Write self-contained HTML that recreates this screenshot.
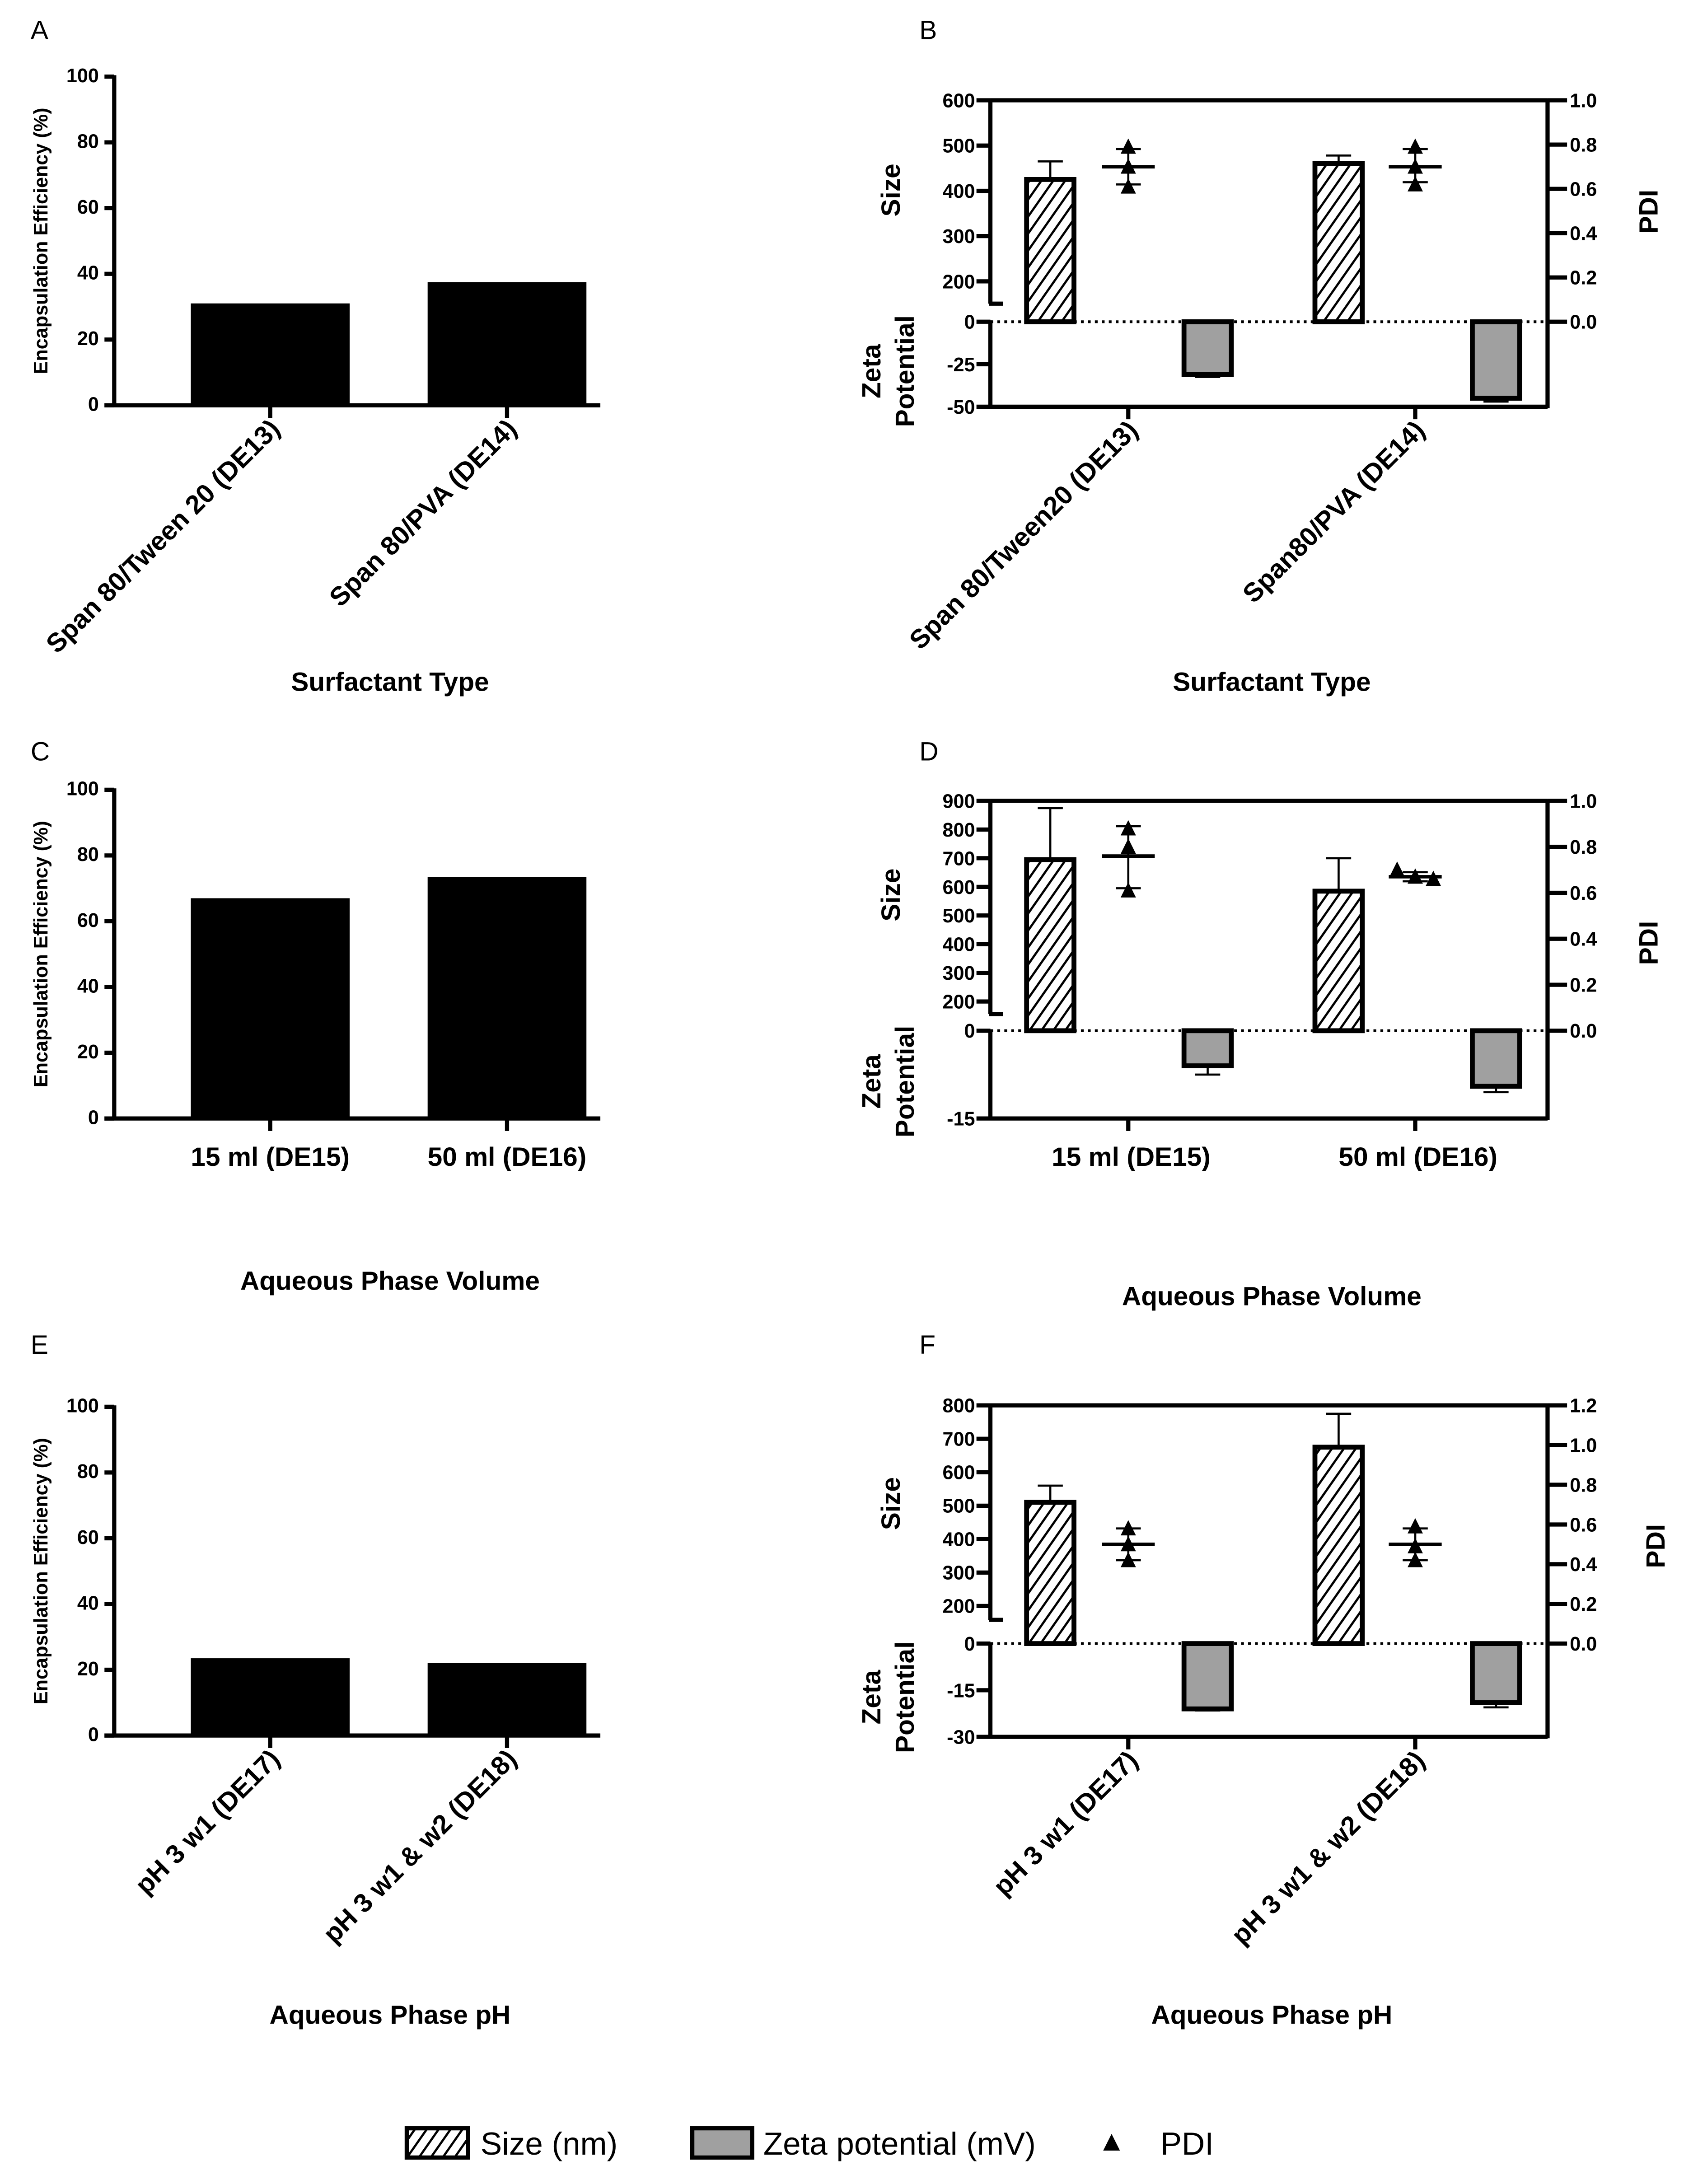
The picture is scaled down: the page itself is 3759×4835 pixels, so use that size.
<!DOCTYPE html>
<html><head><meta charset="utf-8">
<style>
html,body{margin:0;padding:0;background:#fff;}
svg{display:block;}
text{font-family:"Liberation Sans",Arial,sans-serif;fill:#000;}
.tk{font-size:14px;font-weight:bold;}
.ax{font-size:19px;font-weight:bold;}
.lt{font-size:19px;}
</style></head>
<body>
<svg id="fig" xmlns="http://www.w3.org/2000/svg" width="3759" height="4835" viewBox="0 0 1219 1568" preserveAspectRatio="none">
<defs>
<pattern id="hatch" patternUnits="userSpaceOnUse" width="7" height="7" patternTransform="rotate(35)">
<rect width="7" height="7" fill="#fff"/>
<line x1="0" y1="0" x2="0" y2="7" stroke="#000" stroke-width="3.2"/>
</pattern>
</defs>
<g id="root"></g>
<g>
<rect x="292" y="1528" width="44" height="21" fill="url(#hatch)" stroke="#000" stroke-width="3"/>
<text x="345" y="1547" font-size="23">Size (nm)</text>
<rect x="497" y="1528" width="43" height="21" fill="#a0a0a0" stroke="#000" stroke-width="3"/>
<text x="548" y="1547" font-size="23">Zeta potential (mV)</text>
<polygon points="798,1532 792,1544 804,1544" fill="#000"/>
<text x="833" y="1547" font-size="23">PDI</text>
</g>
</svg>
<script>
// ---- Data: encapsulation efficiency panels ----
const eeCatsA = ["Span 80/Tween 20 (DE13)", "Span 80/PVA (DE14)"];
const eeValsA = [31, 37.5];
const eeCatsC = ["15 ml (DE15)", "50 ml (DE16)"];
const eeValsC = [67, 73.5];
const eeCatsE = ["pH 3 w1 (DE17)", "pH 3 w1 & w2 (DE18)"];
const eeValsE = [23.5, 22];
const eeTicks = [0, 20, 40, 60, 80, 100];

// ---- Data: size / zeta / PDI panels ----
const catsB = ["Span 80/Tween20 (DE13)", "Span80/PVA (DE14)"];
const sizeB = [425, 460];
const sizeErrB = [465, 478];
const zetaB = [-31, -45];
const zetaErrB = [-32.5, -47];
const pdiPtsB = [[0.79, 0.7, 0.61], [0.79, 0.7, 0.62]];
const pdiMeanB = [0.7, 0.7];
const pdiLoB = [0.62, 0.63];
const pdiHiB = [0.78, 0.78];
const sizeTicksB = [200, 300, 400, 500, 600];
const zetaTicksB = [0, -25, -50];
const pdiTicksB = [0, 0.2, 0.4, 0.6, 0.8, 1.0];

const catsD = ["15 ml (DE15)", "50 ml (DE16)"];
const sizeD = [695, 585];
const sizeErrD = [875, 700];
const zetaD = [-6, -9.5];
const zetaErrD = [-7.5, -10.5];
const pdiPtsD = [[0.88, 0.8, 0.61], [0.7, 0.67, 0.66]];
const pdiMeanD = [0.76, 0.67];
const pdiLoD = [0.62, 0.65];
const pdiHiD = [0.89, 0.69];
const sizeTicksD = [200, 300, 400, 500, 600, 700, 800, 900];
const zetaTicksD = [0, -15];
const pdiTicksD = [0, 0.2, 0.4, 0.6, 0.8, 1.0];

const catsF = ["pH 3 w1 (DE17)", "pH 3 w1 & w2 (DE18)"];
const sizeF = [510, 675];
const sizeErrF = [560, 775];
const zetaF = [-21, -19];
const zetaErrF = [-21.5, -20.5];
const pdiPtsF = [[0.58, 0.5, 0.42], [0.59, 0.49, 0.42]];
const pdiMeanF = [0.5, 0.5];
const pdiLoF = [0.42, 0.42];
const pdiHiF = [0.58, 0.58];
const sizeTicksF = [200, 300, 400, 500, 600, 700, 800];
const zetaTicksF = [0, -15, -30];
const pdiTicksF = [0, 0.2, 0.4, 0.6, 0.8, 1.0, 1.2];

const NS = "http://www.w3.org/2000/svg";
const root = document.getElementById("root");
function mk(tag, attrs, parent, txt) {
  const e = document.createElementNS(NS, tag);
  for (const k in attrs) e.setAttribute(k, attrs[k]);
  if (txt !== undefined) e.textContent = txt;
  (parent || root).appendChild(e);
  return e;
}
function line(x1, y1, x2, y2, w, p, extra) {
  return mk("line", Object.assign({x1, y1, x2, y2, stroke: "#000", "stroke-width": w}, extra || {}), p);
}

function eePanel(letter, ly, top, bottom, cats, vals, rotated, title, ty) {
  const g = mk("g", {});
  
  
  const lt = mk("text", {x: 22, y: ly, class: "lt"}, g, letter);
  
  
  const ax = 82;
  const y = v => bottom - v / 100 * (bottom - top);
  const barX = [137, 307];
  vals.forEach((v, i) => {
    const b = mk("rect", {x: barX[i], y: y(v), width: 114, height: bottom - y(v), fill: "#000"}, g);
    
    
  });
  line(ax, top - 1, ax, bottom + 1, 3, g);
  line(75, bottom, 431, bottom, 3, g);
  eeTicks.forEach(t => {
    line(75, y(t), ax, y(t), 3, g);
    const tl = mk("text", {x: 71, y: y(t) + 4, class: "tk", "text-anchor": "end", "font-size": 12.5}, g, t);
    
    
  });
  const yt = mk("text", {x: 0, y: 0, class: "tk", "text-anchor": "middle", "font-size": 13,
    transform: `translate(34,${(top + bottom) / 2}) rotate(-90)`}, g, "Encapsulation Efficiency (%)");
  
  
  cats.forEach((c, i) => {
    const cx = barX[i] + 57;
    line(cx, bottom, cx, bottom + 9, 3, g);
    let t;
    if (rotated) t = mk("text", {x: 0, y: 0, class: "ax", "text-anchor": "end", transform: `translate(${cx + 8},${bottom + 18}) rotate(-45)`}, g, c);
    else t = mk("text", {x: cx, y: bottom + 34, class: "ax", "text-anchor": "middle", "font-size": 20}, g, c);
    
    
  });
  const tt = mk("text", {x: 280, y: ty, class: "ax", "text-anchor": "middle", "font-size": 20}, g, title);
  
  
}

function comboPanel(o) {
  const g = mk("g", {});
  
  
  const lt = mk("text", {x: 660, y: o.ly, class: "lt"}, g, o.letter);
  
  
  const x0 = 711, x1 = 1111;
  const sMax = o.sizeTicks[o.sizeTicks.length - 1], sMin = o.sizeTicks[0];
  const yS = v => o.top + (sMax - v) / (sMax - sMin) * (o.y200 - o.top);
  const zMin = o.zetaTicks[o.zetaTicks.length - 1];
  const yZ = v => o.zero + v / zMin * (o.bottom - o.zero);
  const pMax = o.pdiTicks[o.pdiTicks.length - 1];
  const yP = v => o.zero - v / pMax * (o.zero - o.top);
  const sizeX = [737, 944], zetaX = [850, 1057], pdiX = [810, 1016];
  o.size.forEach((v, i) => {
    line(sizeX[i] + 17, yS(v), sizeX[i] + 17, yS(o.sizeErr[i]), 1.5, g);
    line(sizeX[i] + 8, yS(o.sizeErr[i]), sizeX[i] + 26, yS(o.sizeErr[i]), 1.5, g);
    const b = mk("rect", {x: sizeX[i], y: yS(v), width: 34, height: o.zero - yS(v), fill: "url(#hatch)", stroke: "#000", "stroke-width": 3.5}, g);
    
    
  });
  o.zeta.forEach((v, i) => {
    line(zetaX[i] + 17, yZ(v), zetaX[i] + 17, yZ(o.zetaErr[i]), 1.5, g);
    line(zetaX[i] + 8, yZ(o.zetaErr[i]), zetaX[i] + 26, yZ(o.zetaErr[i]), 1.5, g);
    const b = mk("rect", {x: zetaX[i], y: o.zero, width: 34, height: yZ(v) - o.zero, fill: "#a0a0a0", stroke: "#000", "stroke-width": 3.5}, g);
    
    
  });
  o.pdiPts.forEach((pts, i) => {
    const cx = pdiX[i];
    line(cx, yP(o.pdiLo[i]), cx, yP(o.pdiHi[i]), 1.5, g);
    line(cx - 9, yP(o.pdiLo[i]), cx + 9, yP(o.pdiLo[i]), 1.5, g);
    line(cx - 9, yP(o.pdiHi[i]), cx + 9, yP(o.pdiHi[i]), 1.5, g);
    line(cx - 19, yP(o.pdiMean[i]), cx + 19, yP(o.pdiMean[i]), 2.5, g);
    pts.forEach((p, j) => {
      const px = cx + (o.spread[i] ? (j - 1) * 13 : 0);
      const py = yP(p);
      const t = mk("polygon", {points: `${px},${py - 6} ${px - 5.5},${py + 5} ${px + 5.5},${py + 5}`, fill: "#000"}, g);
      
      
    });
  });
  line(x0, o.top, x1, o.top, 3, g);
  line(x0, o.bottom, x1, o.bottom, 3, g);
  line(x0, o.top, x0, o.breakY, 3, g);
  line(x0 - 1, o.breakY, x0 + 9, o.breakY, 3, g);
  line(x0, o.zero - 1, x0, o.bottom + 1, 3, g);
  line(x1, o.top - 1, x1, o.bottom + 1, 3, g);
  line(x0, o.zero, x1, o.zero, 2, g, {"stroke-dasharray": "2,3"});
  o.sizeTicks.forEach(t => {
    line(x0 - 10, yS(t), x0, yS(t), 3, g);
    const l = mk("text", {x: x0 - 11, y: yS(t) + 5, class: "tk", "text-anchor": "end", "font-size": 15}, g, t);
    
    
  });
  o.zetaTicks.forEach(t => {
    line(x0 - 10, yZ(t), x0, yZ(t), 3, g);
    const l = mk("text", {x: x0 - 11, y: yZ(t) + 5, class: "tk", "text-anchor": "end", "font-size": 15}, g, t);
    
    
  });
  o.pdiTicks.forEach(t => {
    line(x1, yP(t), x1 + 14, yP(t), 3, g);
    const l = mk("text", {x: x1 + 16, y: yP(t) + 5, class: "tk", "font-size": 15}, g, t.toFixed(1));
    
    
  });
  const s = mk("text", {x: 0, y: 0, class: "ax", "text-anchor": "middle", "font-size": 17, transform: `translate(646,${(o.top + o.zero) / 2 - 15}) rotate(-90)`}, g, "Size");
  
  
  const zc = (o.zero + o.bottom) / 2 + 5;
  const z1 = mk("text", {x: 0, y: 0, class: "ax", "text-anchor": "middle", "font-size": 17, transform: `translate(632,${zc}) rotate(-90)`}, g, "Zeta");
  const z2 = mk("text", {x: 0, y: 0, class: "ax", "text-anchor": "middle", "font-size": 17, transform: `translate(656,${zc}) rotate(-90)`}, g, "Potential");
  
  
  
  
  const pd = mk("text", {x: 0, y: 0, class: "ax", "text-anchor": "middle", "font-size": 17, transform: `translate(${o.pdiX},${o.pdiY}) rotate(-90)`}, g, "PDI");
  
  
  o.cats.forEach((c, i) => {
    const cx = pdiX[i];
    line(cx, o.bottom, cx, o.bottom + 9, 3, g);
    let t;
    if (o.rotated) t = mk("text", {x: 0, y: 0, class: "ax", "text-anchor": "end", transform: `translate(${cx + 8},${o.bottom + 18}) rotate(-45)`}, g, c);
    else t = mk("text", {x: cx + 2, y: o.bottom + 34, class: "ax", "text-anchor": "middle", "font-size": 20}, g, c);
    
    
  });
  const tt = mk("text", {x: 913, y: o.ty, class: "ax", "text-anchor": "middle", "font-size": 20}, g, o.title);
  
  
}

eePanel("A", 28, 55, 291, eeCatsA, eeValsA, true, "Surfactant Type", 496);
eePanel("C", 546, 567, 803, eeCatsC, eeValsC, false, "Aqueous Phase Volume", 926);
eePanel("E", 972, 1010, 1246, eeCatsE, eeValsE, true, "Aqueous Phase pH", 1453);

comboPanel({letter: "B", ly: 28, top: 72, y200: 202, zero: 231, bottom: 292, breakY: 218,
  cats: catsB, size: sizeB, sizeErr: sizeErrB, zeta: zetaB, zetaErr: zetaErrB,
  pdiPts: pdiPtsB, pdiMean: pdiMeanB, pdiLo: pdiLoB, pdiHi: pdiHiB,
  sizeTicks: sizeTicksB, zetaTicks: zetaTicksB, pdiTicks: pdiTicksB,
  pdiX: 1190, pdiY: 152, rotated: true, title: "Surfactant Type", ty: 496, spread: [false, false]});
comboPanel({letter: "D", ly: 546, top: 575, y200: 719, zero: 740, bottom: 803, breakY: 728,
  cats: catsD, size: sizeD, sizeErr: sizeErrD, zeta: zetaD, zetaErr: zetaErrD,
  pdiPts: pdiPtsD, pdiMean: pdiMeanD, pdiLo: pdiLoD, pdiHi: pdiHiD,
  sizeTicks: sizeTicksD, zetaTicks: zetaTicksD, pdiTicks: pdiTicksD,
  pdiX: 1190, pdiY: 677, rotated: false, title: "Aqueous Phase Volume", ty: 937, spread: [false, true]});
comboPanel({letter: "F", ly: 972, top: 1009, y200: 1153, zero: 1180, bottom: 1247, breakY: 1163,
  cats: catsF, size: sizeF, sizeErr: sizeErrF, zeta: zetaF, zetaErr: zetaErrF,
  pdiPts: pdiPtsF, pdiMean: pdiMeanF, pdiLo: pdiLoF, pdiHi: pdiHiF,
  sizeTicks: sizeTicksF, zetaTicks: zetaTicksF, pdiTicks: pdiTicksF,
  pdiX: 1195, pdiY: 1110, rotated: true, title: "Aqueous Phase pH", ty: 1453, spread: [false, false]});
</script>
</body></html>
